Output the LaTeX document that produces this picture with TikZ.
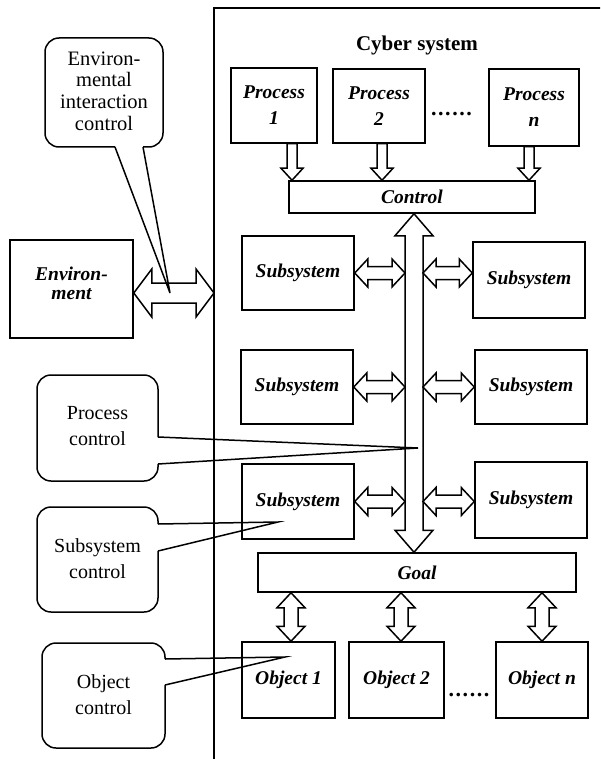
\documentclass[tikz,border=0pt]{standalone}
\usepackage{fontspec}
\setmainfont{Liberation Serif}
\usetikzlibrary{calc}
\newcommand\hdbl[5]{%
\draw[arr] let \p1=#1, \p2=#2 in (\x1,\y1) -- (\x1+#5pt,\y1+#4pt) -- (\x1+#5pt,\y1+#3pt) -- (\x2-#5pt,\y1+#3pt) -- (\x2-#5pt,\y1+#4pt) -- (\x2,\y1) -- (\x2-#5pt,\y1-#4pt) -- (\x2-#5pt,\y1-#3pt) -- (\x1+#5pt,\y1-#3pt) -- (\x1+#5pt,\y1-#4pt) -- cycle;}
\newcommand\vdbl[5]{%
\draw[arr] let \p1=#1, \p2=#2 in (\x1,\y1) -- (\x1+#4pt,\y1-#5pt) -- (\x1+#3pt,\y1-#5pt) -- (\x1+#3pt,\y2+#5pt) -- (\x1+#4pt,\y2+#5pt) -- (\x1,\y2) -- (\x1-#4pt,\y2+#5pt) -- (\x1-#3pt,\y2+#5pt) -- (\x1-#3pt,\y1-#5pt) -- (\x1-#4pt,\y1-#5pt) -- cycle;}
\newcommand\vdown[5]{%
\draw[arr] let \p1=#1, \p2=#2 in (\x1-#3pt,\y1) -- (\x1+#3pt,\y1) -- (\x1+#3pt,\y2+#5pt) -- (\x1+#4pt,\y2+#5pt) -- (\x1,\y2) -- (\x1-#4pt,\y2+#5pt) -- (\x1-#3pt,\y2+#5pt) -- cycle;}
\newcommand\callR[7]{%
\draw[rounded corners=14pt] (#3,#5) -- (#3,#2) -- (#1,#2) -- (#1,#4) -- (#3,#4) -- (#3,#6);
\draw (#3,#5) -- (#7) -- (#3,#6);}
\begin{document}
\begin{tikzpicture}[x=1pt,y=-1pt,line width=1.5pt,
  blk/.style={draw,inner sep=0pt,align=center,font=\bfseries\itshape\fontsize{19.5}{26}\selectfont},
  ctext/.style={inner sep=0pt,align=center,font=\fontsize{20}{26}\selectfont},
  dots/.style={anchor=base,inner sep=0pt,font=\bfseries\fontsize{22}{26}\selectfont},
  arr/.style={draw,fill=white,line join=miter}]
\useasboundingbox (0,0) rectangle (600,759);
\clip (0,0) rectangle (600,759);
% frame of the cyber system
\draw[line width=1.7pt] (214,770) -- (214,8) -- (610,8);
\node[font=\bfseries\fontsize{21}{25}\selectfont] (cs) at (417,45) {Cyber system};
% process boxes
\node[blk,minimum width=86pt,minimum height=75pt] (p1) at (274,105.5) {Process\\1};
\node[blk,minimum width=92pt,minimum height=74pt] (p2) at (379,106) {Process\\2};
\node[blk,minimum width=90pt,minimum height=77pt] (pn) at (534,107.5) {Process\\n};
\node[dots] (d1) at (451.5,116) {.\kern1.6pt.\kern1.6pt.\kern1.6pt.\kern1.6pt.\kern1.6pt.};
\node[blk,minimum width=246pt,minimum height=32pt] (ctrl) at (412,197) {Control};
% subsystems
\node[blk,minimum width=112pt,minimum height=74pt] (sL1) at (298,273) {Subsystem};
\node[blk,minimum width=112pt,minimum height=74pt] (sL2) at (297,387) {Subsystem};
\node[blk,minimum width=112pt,minimum height=75pt] (sL3) at (298,501.5) {Subsystem};
\node[blk,minimum width=112pt,minimum height=76pt] (sR1) at (529,280) {Subsystem};
\node[blk,minimum width=112pt,minimum height=74pt] (sR2) at (531,387) {Subsystem};
\node[blk,minimum width=112pt,minimum height=76pt] (sR3) at (531,500) {Subsystem};
% goal and objects
\node[blk,minimum width=318pt,minimum height=39pt] (goal) at (417,572.5) {Goal};
\node[blk,minimum width=93pt,minimum height=76pt] (o1) at (288.5,680) {Object 1};
\node[blk,minimum width=95pt,minimum height=76pt] (o2) at (396.5,680) {Object 2};
\node[blk,minimum width=92pt,minimum height=76pt] (on) at (542,680) {Object n};
\node[dots] (d2) at (469,696) {.\kern1.6pt.\kern1.6pt.\kern1.6pt.\kern1.6pt.\kern1.6pt.};
% environment
\node[draw,inner sep=0pt,minimum width=123pt,minimum height=98pt] (env) at (71.5,289) {};
\node[inner sep=0pt,align=center,font=\bfseries\itshape\fontsize{19.5}{19}\selectfont] (envt) at (71.5,283) {Environ-\\ment};
% helper coordinates
\coordinate (xa1) at (292,0);
\coordinate (xa2) at (382,0);
\coordinate (xan) at (529,0);
\coordinate (xb) at (414,0);
\coordinate (xbl) at (405,0);
\coordinate (xbr) at (423,0);
\coordinate (xo1) at (291,0);
\coordinate (xo2) at (401,0);
\coordinate (xon) at (542,0);
\coordinate (fr) at (214,293);
% arrows
\vdown{(p1.south -| xa1)}{(ctrl.north -| xa1)}{5}{11}{12}
\vdown{(p2.south -| xa2)}{(ctrl.north -| xa2)}{5}{11}{12}
\vdown{(pn.south -| xan)}{(ctrl.north -| xan)}{5}{11}{12}
\vdbl{(ctrl.south -| xb)}{(goal.north -| xb)}{9}{19}{22}
\hdbl{(sL1.east)}{(sL1.east -| xbl)}{6.5}{14}{13}
\hdbl{(sL2.east)}{(sL2.east -| xbl)}{6.5}{14}{13}
\hdbl{(sL3.east)}{(sL3.east -| xbl)}{6.5}{14}{13}
\hdbl{(sL1.east -| xbr)}{(sL1.east -| sR1.west)}{6.5}{14}{13}
\hdbl{(sL2.east -| xbr)}{(sL2.east -| sR2.west)}{6.5}{14}{13}
\hdbl{(sL3.east -| xbr)}{(sL3.east -| sR3.west)}{6.5}{14}{13}
\vdbl{(goal.south -| xo1)}{(o1.north -| xo1)}{7}{14}{15}
\vdbl{(goal.south -| xo2)}{(o2.north -| xo2)}{7}{14}{15}
\vdbl{(goal.south -| xon)}{(on.north -| xon)}{7}{14}{15}
\hdbl{(env.east |- fr)}{(fr)}{10}{24}{18}
% callouts
\coordinate (t1) at (170,293);
\coordinate (t2) at (418,448);
\coordinate (t3) at (278,522);
\coordinate (t4) at (285,657);
\draw[rounded corners=14pt] (115,147) -- (45,147) -- (45,38) -- (163,38) -- (163,147) -- (143,147);
\draw (115,147) -- (t1) -- (143,147);
\node[ctext,font=\fontsize{20.5}{21.7}\selectfont] (c1) at (104,91) {Environ-\\mental\\interaction\\control};
\callR{37}{375}{158}{481}{437}{464}{t2}
\node[ctext] (c2) at (97.5,426) {Process\\control};
\callR{37}{507}{158}{612}{524}{551}{t3}
\node[ctext] (c3) at (97.5,559) {Subsystem\\control};
\callR{42}{643}{165}{748}{659}{685}{t4}
\node[ctext] (c4) at (103.5,695) {Object\\control};
\end{tikzpicture}
\end{document}
